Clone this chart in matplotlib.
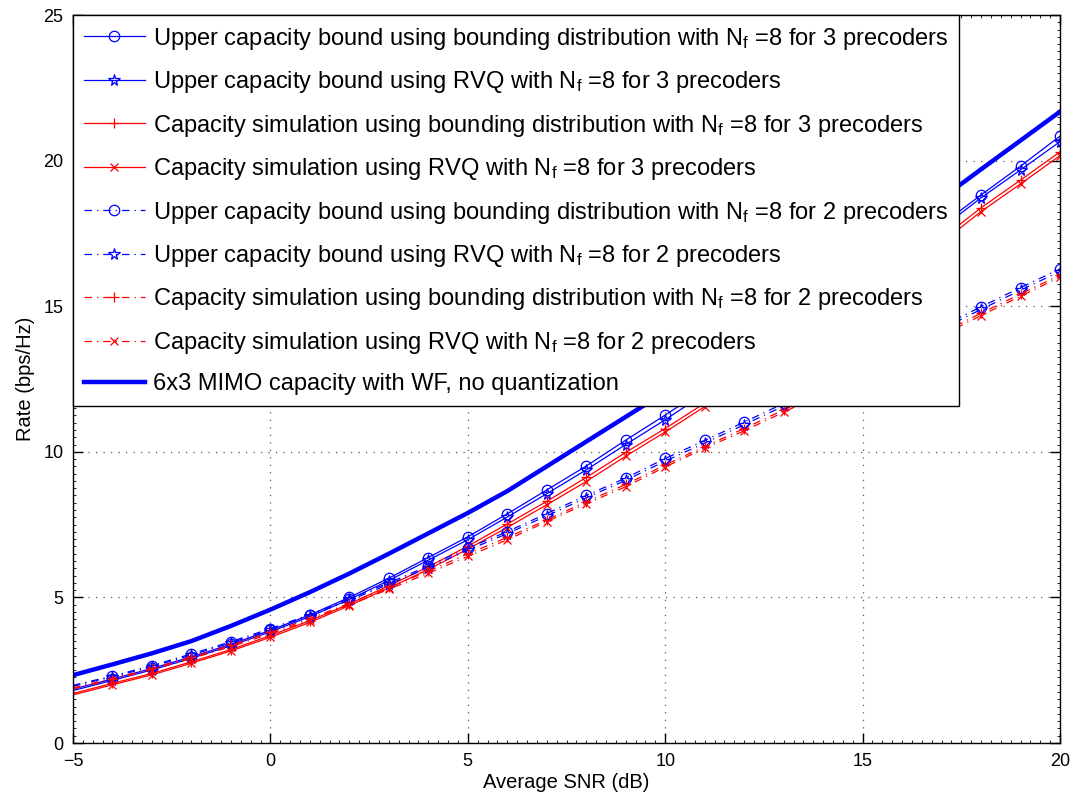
import matplotlib
matplotlib.use("Agg")
import matplotlib.pyplot as plt
from matplotlib.ticker import MultipleLocator

plt.rcParams['font.family'] = ['Liberation Sans', 'DejaVu Sans']
plt.rcParams['mathtext.fontset'] = 'custom'
plt.rcParams['mathtext.rm'] = 'Liberation Sans'
plt.rcParams['mathtext.default'] = 'rm'

snr = [-5, -4, -3, -2, -1, 0, 1, 2, 3, 4, 5, 6, 7, 8, 9, 10, 11, 12, 13, 14, 15, 16, 17, 18, 19, 20]

ub_bd_3 = [1.85, 2.2, 2.56, 2.96, 3.39, 3.87, 4.4, 5.0, 5.66, 6.37, 7.08, 7.87, 8.69, 9.51, 10.4, 11.26, 12.15, 13.05, 13.97, 14.9, 15.85, 16.82, 17.8, 18.82, 19.81, 20.84]
ub_rvq_3 = [1.8, 2.15, 2.51, 2.91, 3.34, 3.82, 4.34, 4.93, 5.58, 6.28, 6.98, 7.76, 8.56, 9.38, 10.25, 11.1, 12.0, 12.92, 13.84, 14.78, 15.73, 16.7, 17.68, 18.72, 19.68, 20.65]
sim_bd_3 = [1.7, 2.05, 2.39, 2.79, 3.21, 3.69, 4.2, 4.78, 5.4, 6.05, 6.76, 7.52, 8.3, 9.12, 9.98, 10.8, 11.67, 12.55, 13.47, 14.4, 15.35, 16.32, 17.32, 18.38, 19.33, 20.3]
sim_rvq_3 = [1.65, 2.0, 2.34, 2.74, 3.16, 3.63, 4.14, 4.72, 5.32, 5.96, 6.66, 7.4, 8.18, 8.98, 9.85, 10.68, 11.55, 12.43, 13.35, 14.27, 15.22, 16.18, 17.18, 18.25, 19.2, 20.17]

ub_bd_2 = [1.98, 2.3, 2.66, 3.06, 3.48, 3.93, 4.41, 4.95, 5.5, 6.08, 6.69, 7.26, 7.88, 8.5, 9.1, 9.77, 10.39, 11.02, 11.66, 12.3, 12.95, 13.62, 14.3, 14.98, 15.64, 16.28]
ub_rvq_2 = [1.95, 2.27, 2.62, 3.02, 3.44, 3.89, 4.37, 4.9, 5.45, 6.02, 6.62, 7.19, 7.8, 8.42, 9.02, 9.68, 10.3, 10.93, 11.57, 12.21, 12.86, 13.53, 14.21, 14.89, 15.55, 16.19]
sim_bd_2 = [1.9, 2.21, 2.56, 2.95, 3.36, 3.8, 4.27, 4.8, 5.34, 5.9, 6.5, 7.06, 7.66, 8.29, 8.88, 9.55, 10.18, 10.8, 11.44, 12.08, 12.73, 13.4, 14.08, 14.76, 15.42, 16.07]
sim_rvq_2 = [1.86, 2.17, 2.52, 2.9, 3.31, 3.75, 4.22, 4.74, 5.28, 5.83, 6.41, 6.98, 7.6, 8.22, 8.8, 9.48, 10.12, 10.72, 11.36, 12.0, 12.65, 13.32, 14.0, 14.68, 15.34, 16.0]

wf = [2.33, 2.7, 3.08, 3.5, 4.02, 4.58, 5.18, 5.82, 6.5, 7.2, 7.9, 8.65, 9.5, 10.35, 11.2, 12.05, 12.95, 13.87, 14.8, 15.75, 16.7, 17.7, 18.7, 19.7, 20.69, 21.68]

labels = [
    r'Upper capacity bound using bounding distribution with N$_\mathrm{f}$ =8 for 3 precoders',
    r'Upper capacity bound using RVQ with N$_\mathrm{f}$ =8 for 3 precoders',
    r'Capacity simulation using bounding distribution with N$_\mathrm{f}$ =8 for 3 precoders',
    r'Capacity simulation using RVQ with N$_\mathrm{f}$ =8 for 3 precoders',
    r'Upper capacity bound using bounding distribution with N$_\mathrm{f}$ =8 for 2 precoders',
    r'Upper capacity bound using RVQ with N$_\mathrm{f}$ =8 for 2 precoders',
    r'Capacity simulation using bounding distribution with N$_\mathrm{f}$ =8 for 2 precoders',
    r'Capacity simulation using RVQ with N$_\mathrm{f}$ =8 for 2 precoders',
    '6x3 MIMO capacity with WF, no quantization',
]

fig = plt.figure(figsize=(10.83, 8.05), dpi=100)
ax = fig.add_axes([73/1083, 1-743/805, (1060-73)/1083, (743-15)/805])

blue = (0, 0, 1)
red = (1, 0, 0)
dd = (0, (6, 4, 1, 4))
me = slice(1, None)
sizes = {'o': 7.5, '*': 8.5, '+': 7, 'x': 6}

series = [
    (ub_bd_3, blue, '-', 'o'),
    (ub_rvq_3, blue, '-', '*'),
    (sim_bd_3, red, '-', '+'),
    (sim_rvq_3, red, '-', 'x'),
    (ub_bd_2, blue, dd, 'o'),
    (ub_rvq_2, blue, dd, '*'),
    (sim_bd_2, red, dd, '+'),
    (sim_rvq_2, red, dd, 'x'),
]
for (vals, col, ls, mk), lab in zip(series, labels[:8]):
    ax.plot(snr, vals, color=col, linestyle=ls, linewidth=0.9, marker=mk,
            markersize=sizes[mk], markerfacecolor='none',
            markeredgecolor=col, markeredgewidth=0.9, markevery=me, label=lab)
ax.plot(snr, wf, color=blue, linewidth=3.2, label=labels[8])

ax.set_xlim(-5, 20)
ax.set_ylim(0, 25)
ax.xaxis.set_major_locator(MultipleLocator(5))
ax.yaxis.set_major_locator(MultipleLocator(5))
ax.xaxis.set_minor_locator(MultipleLocator(0.25))
ax.yaxis.set_minor_locator(MultipleLocator(0.25))
ax.tick_params(which='major', direction='in', length=7, width=1, top=True, right=True,
               labelsize=13, pad=7)
ax.tick_params(which='minor', direction='in', length=2, width=0.6, top=True, right=True)
ax.grid(True, which='major', color=(0.35, 0.35, 0.35), linestyle=(0, (1, 5)), linewidth=0.9)
for sp in ax.spines.values():
    sp.set_linewidth(1.0)
    sp.set_color('black')

ax.set_xlabel('Average SNR (dB)', fontsize=14.5, labelpad=2)
ax.set_ylabel('Rate (bps/Hz)', fontsize=14.5, labelpad=6)

leg = ax.legend(loc='upper left', fontsize=17.0, frameon=True, fancybox=False,
                edgecolor='black', framealpha=1, borderaxespad=0, handlelength=2.6,
                handletextpad=0.35, labelspacing=0.74, borderpad=0.45)
leg.get_frame().set_linewidth(1.0)

fig.savefig('out.png', dpi=100)
